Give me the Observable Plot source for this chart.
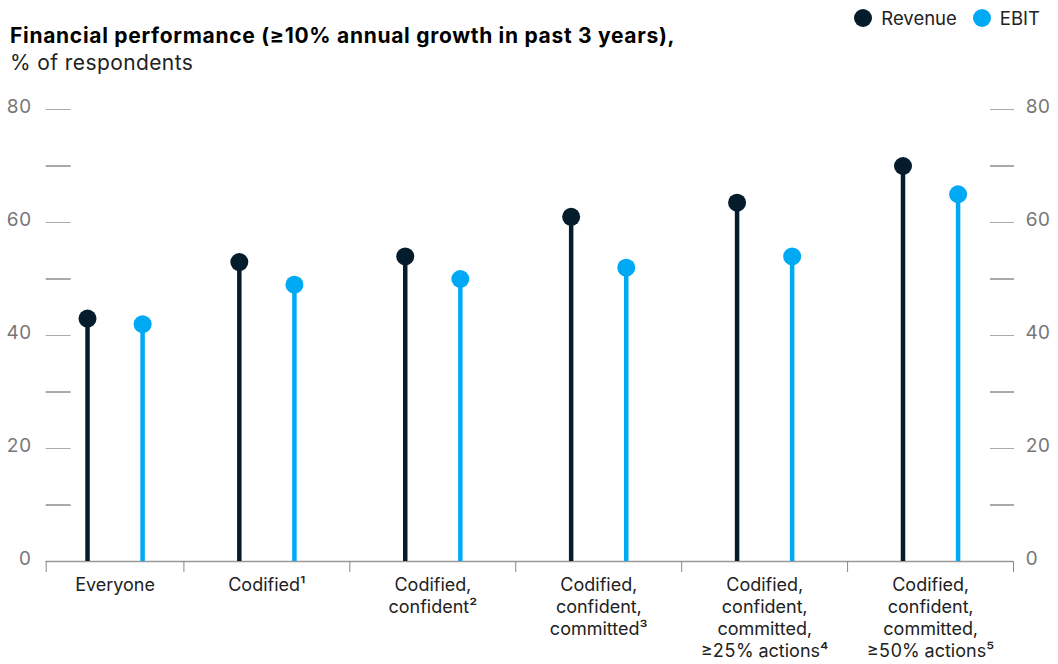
<!DOCTYPE html>
<html>
<head>
<meta charset="utf-8">
<script src="https://cdn.jsdelivr.net/npm/d3@7"></script>
<script src="https://cdn.jsdelivr.net/npm/@observablehq/plot@0.6"></script>
<style>
  html, body { margin: 0; padding: 0; background: #fff; }
  body { width: 1058px; height: 664px; overflow: hidden; font-family: Inter, "Liberation Sans", sans-serif; }
  #header { position: relative; width: 1058px; height: 85px; }
  #title { position: absolute; left: 10px; top: 23px; font-size: 21px; font-weight: 700; color: #000; white-space: nowrap; letter-spacing: 0.7px; }
  #subtitle { position: absolute; left: 10px; top: 50px; font-size: 21px; font-weight: 400; color: #222; white-space: nowrap; letter-spacing: 0.4px; }
  #legend { position: absolute; right: 18px; top: 7px; display: flex; align-items: center; font-size: 18.5px; color: #222; }
  .item { display: flex; align-items: center; margin-left: 16px; }
  .sw { width: 18px; height: 18px; border-radius: 50%; margin-right: 9px; display: inline-block; }
</style>
</head>
<body>
<div id="header">
  <div id="title"></div>
  <div id="subtitle"></div>
  <div id="legend"></div>
</div>
<div id="chart"></div>
<script>
// ---- data ----
const titleText = "Financial performance (≥10% annual growth in past 3 years),";
const subtitleText = "% of respondents";
const categories = [
  "Everyone",
  "Codified¹",
  "Codified,\nconfident²",
  "Codified,\nconfident,\ncommitted³",
  "Codified,\nconfident,\ncommitted,\n≥25% actions⁴",
  "Codified,\nconfident,\ncommitted,\n≥50% actions⁵"
];
const seriesNames = ["Revenue", "EBIT"];
const revenue = [43, 53, 54, 61, 63.5, 70];
const ebit = [42, 49, 50, 52, 54, 65];
const yMajorTicks = [0, 20, 40, 60, 80];
const yMinorTicks = [10, 30, 50, 70];
const seriesColors = ["#051C2C", "#00A9F4"];

// ---- layout constants ----
const bandWidths = [0.83, 1, 1, 1, 1, 1];           // relative category band widths
const seriesOffset = {Revenue: -0.166, EBIT: 0.166}; // within-band offset, in band units

// ---- derived layout ----
const edges = [0];
bandWidths.forEach(w => edges.push(edges[edges.length - 1] + w));
const centers = bandWidths.map((w, i) => edges[i] + w / 2);
const rows = [];
categories.forEach((c, i) => {
  rows.push({i, series: "Revenue", value: revenue[i]});
  rows.push({i, series: "EBIT", value: ebit[i]});
});
const xOf = d => centers[d.i] + seriesOffset[d.series];

document.getElementById("title").textContent = titleText;
document.getElementById("subtitle").textContent = subtitleText;
const legend = document.getElementById("legend");
seriesNames.forEach((s, k) => {
  const it = document.createElement("div");
  it.className = "item";
  const sw = document.createElement("span");
  sw.className = "sw";
  sw.style.background = seriesColors[k];
  it.appendChild(sw);
  it.appendChild(document.createTextNode(s));
  legend.appendChild(it);
});

const chart = Plot.plot({
  width: 1058,
  height: 579,
  marginTop: 24,
  marginBottom: 103,
  marginLeft: 45.7,
  marginRight: 45,
  style: {fontFamily: "Inter, 'Liberation Sans', sans-serif", background: "#fff"},
  x: {type: "linear", domain: [0, edges[edges.length - 1]], axis: null},
  y: {domain: [0, 80], axis: null},
  color: {domain: seriesNames, range: seriesColors},
  marks: [
    // left axis
    Plot.axisY(yMajorTicks, {anchor: "left", tickSize: 0, tickPadding: 15, dy: -3, fontSize: 19, fill: "#777", label: null}),
    Plot.axisY(yMajorTicks, {anchor: "left", tickSize: 25, dx: 25, tickFormat: () => "", fill: "none", stroke: "#aaa", strokeOpacity: 1, label: null}),
    Plot.axisY(yMinorTicks, {anchor: "left", tickSize: 25, dx: 25, tickFormat: () => "", fill: "none", stroke: "#555", strokeOpacity: 1, label: null}),
    // right axis
    Plot.axisY(yMajorTicks, {anchor: "right", tickSize: 0, tickPadding: 12, dy: -3, fontSize: 19, fill: "#777", label: null}),
    Plot.axisY(yMajorTicks, {anchor: "right", tickSize: 24, dx: -24, tickFormat: () => "", fill: "none", stroke: "#aaa", strokeOpacity: 1, label: null}),
    Plot.axisY(yMinorTicks, {anchor: "right", tickSize: 24, dx: -24, tickFormat: () => "", fill: "none", stroke: "#555", strokeOpacity: 1, label: null}),
    // baseline & band separators
    Plot.ruleY([0], {stroke: "#999", strokeWidth: 1.3}),
    Plot.axisX(edges, {anchor: "bottom", tickSize: 11, tickFormat: () => "", fill: "none", stroke: "#888", strokeOpacity: 1, label: null}),
    // category labels
    Plot.axisX(centers, {anchor: "bottom", tickSize: 0, tickPadding: 14, fontSize: 18, fill: "#222", lineHeight: 1.22, tickFormat: (c, i) => categories[centers.indexOf(c)], label: null}),
    // stems and dots
    Plot.ruleX(rows, {x: xOf, y1: 0, y2: "value", stroke: "series", strokeWidth: 4.5}),
    Plot.dot(rows, {x: xOf, y: "value", r: 9, fill: "series", stroke: "none"})
  ]
});
document.getElementById("chart").appendChild(chart);
</script>
</body>
</html>
